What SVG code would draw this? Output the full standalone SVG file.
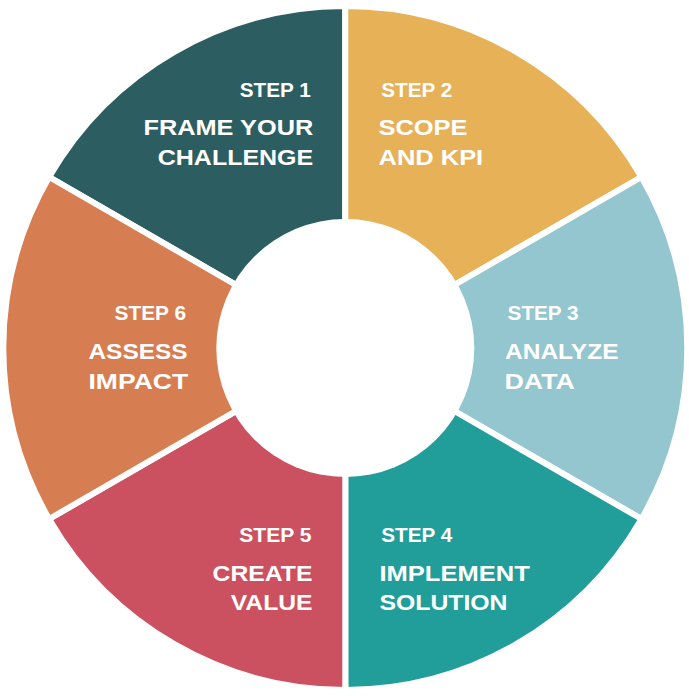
<svg xmlns="http://www.w3.org/2000/svg" width="689" height="696" viewBox="0 0 689 696">
<style>
.seg{stroke:#ffffff;stroke-width:6;stroke-linejoin:miter}
.t{font-family:"Liberation Sans",Arial,sans-serif;font-weight:bold;fill:#ffffff}
.s{font-size:20px}
.m{font-size:22.5px}
</style>
<rect width="689" height="696" fill="#ffffff"/>
<g id="step1">
<path class="seg" fill="#2C5E61" d="M345.3 348 L49.12 177 A342 342 0 0 1 345.3 6 Z"/>
<text class="t s" x="239.7" y="96.5" textLength="71" lengthAdjust="spacingAndGlyphs">STEP 1</text>
<text class="t m" x="143.5" y="135" textLength="169.7" lengthAdjust="spacingAndGlyphs">FRAME YOUR</text>
<text class="t m" x="157.8" y="165" textLength="155.4" lengthAdjust="spacingAndGlyphs">CHALLENGE</text>
</g>
<g id="step2">
<path class="seg" fill="#E7B158" d="M345.3 348 L345.3 6 A342 342 0 0 1 641.48 177 Z"/>
<text class="t s" x="381.3" y="96.5" textLength="71" lengthAdjust="spacingAndGlyphs">STEP 2</text>
<text class="t m" x="378.5" y="135" textLength="89" lengthAdjust="spacingAndGlyphs">SCOPE</text>
<text class="t m" x="378.5" y="165" textLength="104.7" lengthAdjust="spacingAndGlyphs">AND KPI</text>
</g>
<g id="step3">
<path class="seg" fill="#93C6CE" d="M345.3 348 L641.48 177 A342 342 0 0 1 641.48 519 Z"/>
<text class="t s" x="507.6" y="320" textLength="71" lengthAdjust="spacingAndGlyphs">STEP 3</text>
<text class="t m" x="505" y="359" textLength="113.5" lengthAdjust="spacingAndGlyphs">ANALYZE</text>
<text class="t m" x="504.5" y="389" textLength="70.3" lengthAdjust="spacingAndGlyphs">DATA</text>
</g>
<g id="step4">
<path class="seg" fill="#229E9A" d="M345.3 348 L641.48 519 A342 342 0 0 1 345.3 690 Z"/>
<text class="t s" x="381.3" y="542.3" textLength="71" lengthAdjust="spacingAndGlyphs">STEP 4</text>
<text class="t m" x="379.5" y="581" textLength="150.3" lengthAdjust="spacingAndGlyphs">IMPLEMENT</text>
<text class="t m" x="379.5" y="610" textLength="128" lengthAdjust="spacingAndGlyphs">SOLUTION</text>
</g>
<g id="step5">
<path class="seg" fill="#CB5160" d="M345.3 348 L345.3 690 A342 342 0 0 1 49.12 519 Z"/>
<text class="t s" x="239.3" y="542.3" textLength="72.3" lengthAdjust="spacingAndGlyphs">STEP 5</text>
<text class="t m" x="212.5" y="581" textLength="100" lengthAdjust="spacingAndGlyphs">CREATE</text>
<text class="t m" x="230.7" y="610" textLength="81.8" lengthAdjust="spacingAndGlyphs">VALUE</text>
</g>
<g id="step6">
<path class="seg" fill="#D67E51" d="M345.3 348 L49.12 519 A342 342 0 0 1 49.12 177 Z"/>
<text class="t s" x="114.6" y="320" textLength="71.4" lengthAdjust="spacingAndGlyphs">STEP 6</text>
<text class="t m" x="88.5" y="359" textLength="99" lengthAdjust="spacingAndGlyphs">ASSESS</text>
<text class="t m" x="88.5" y="389" textLength="99.7" lengthAdjust="spacingAndGlyphs">IMPACT</text>
</g>
<g id="center">
<circle cx="345.3" cy="348" r="129" fill="#ffffff"/>
</g>
</svg>
